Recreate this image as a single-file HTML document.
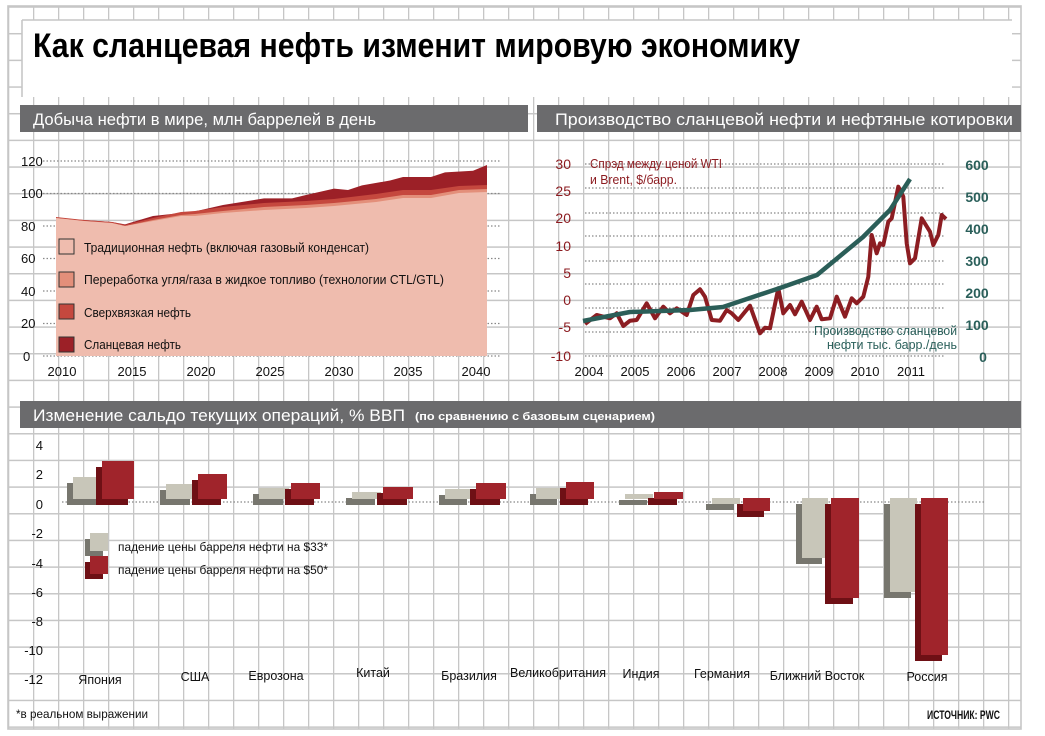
<!DOCTYPE html>
<html><head><meta charset="utf-8"><style>
html,body{margin:0;padding:0;background:#fff;}
svg{display:block;font-family:"Liberation Sans","Noto Sans CJK SC",sans-serif;}
</style></head><body>
<svg width="1045" height="736" viewBox="0 0 1045 736" xmlns="http://www.w3.org/2000/svg">
<defs>
<pattern id="g" x="8" y="6.3" width="25" height="26.67" patternUnits="userSpaceOnUse">
<path d="M0.5,0 V26.67 M0,0.7 H25" stroke="#c6c6c6" stroke-width="1.6" fill="none"/>
</pattern>
</defs>
<rect width="1045" height="736" fill="#fff"/>
<rect x="8" y="6" width="1013" height="723" fill="url(#g)"/>
<rect x="8" y="6" width="1013" height="723" fill="none" stroke="#c6c6c6" stroke-width="1.6"/>
<!-- title box -->
<rect x="22" y="20" width="990" height="77" fill="#fff"/>
<line x1="22" y1="20" x2="22" y2="97" stroke="#c6c6c6" stroke-width="1.6"/>
<line x1="22" y1="20" x2="1012" y2="20" stroke="#c6c6c6" stroke-width="1.6"/>
<text x="33" y="57" font-size="34" font-weight="bold" textLength="767" lengthAdjust="spacingAndGlyphs" fill="#000">Как сланцевая нефть изменит мировую экономику</text>

<!-- headers -->
<rect x="20" y="105" width="508" height="27" fill="#6b6b6d"/>
<text x="33" y="125" font-size="17" fill="#fff" textLength="343" lengthAdjust="spacingAndGlyphs">Добыча нефти в мире, млн баррелей в день</text>
<rect x="537" y="105" width="484" height="27" fill="#6b6b6d"/>
<text x="555" y="125" font-size="17" fill="#fff" textLength="458" lengthAdjust="spacingAndGlyphs">Производство сланцевой нефти и нефтяные котировки</text>
<rect x="20" y="401" width="1001" height="27" fill="#6b6b6d"/>
<text x="33" y="421" font-size="17" fill="#fff" textLength="372" lengthAdjust="spacingAndGlyphs">Изменение сальдо текущих операций, % ВВП</text>
<text x="415" y="420" font-size="11" font-weight="bold" fill="#fff" textLength="240" lengthAdjust="spacingAndGlyphs">(по сравнению с базовым сценарием)</text>

<!-- left chart -->
<g stroke="#888" stroke-width="1.3" stroke-dasharray="1.5,2">
<line x1="43" y1="161" x2="500" y2="161"/><line x1="43" y1="193.5" x2="500" y2="193.5"/>
<line x1="43" y1="226" x2="500" y2="226"/><line x1="43" y1="258.5" x2="500" y2="258.5"/>
<line x1="43" y1="291" x2="500" y2="291"/><line x1="43" y1="323.5" x2="500" y2="323.5"/>
<line x1="43" y1="356" x2="500" y2="356"/>
</g>
<path d="M56,218 L84,220 L112,222 L125,224.4 L153,216 L181,213 L195,211.4 L223,205 L264,198.4 L292,198.4 L306,195 L334,188.6 L348,190 L362,185.4 L390,180.5 L403,177 L431,177 L445,172.4 L473,170.8 L487,165 L487,356 L56,356 Z" fill="#9c2027"/>
<path d="M56,217 L84,220 L112,222 L125,225 L153,218 L181,212 L195,211 L223,207 L264,203 L306,201 L334,199 L376,194 L403,190 L431,190 L459,186 L487,185 L487,356 L56,356 Z" fill="#c5483e"/>
<path d="M56,218 L84,221 L112,223 L125,226 L153,220 L181,215 L195,214 L223,211 L264,207 L306,205 L334,203 L376,199 L403,195 L431,195 L459,190 L487,189 L487,356 L56,356 Z" fill="#e38f7a"/>
<path d="M56,218 L84,221 L112,223 L125,226 L153,221 L181,216 L195,216 L223,213 L264,210 L306,208 L334,206 L376,202 L403,198 L431,198 L459,193 L487,192 L487,356 L56,356 Z" fill="#efbcae"/>
<g font-size="13" fill="#111">
<text x="21" y="166">120</text><text x="21" y="198">100</text><text x="21" y="231">80</text>
<text x="21" y="263">60</text><text x="21" y="296">40</text><text x="21" y="328">20</text><text x="23" y="361">0</text>
</g>
<g font-size="13" fill="#111" text-anchor="middle">
<text x="62" y="376">2010</text><text x="132" y="376">2015</text><text x="201" y="376">2020</text>
<text x="270" y="376">2025</text><text x="339" y="376">2030</text><text x="408" y="376">2035</text><text x="476" y="376">2040</text>
</g>
<g stroke="#333" stroke-width="1">
<rect x="59" y="239" width="15" height="15" fill="#efbcae"/>
<rect x="59" y="272" width="15" height="15" fill="#e38f7a"/>
<rect x="59" y="304" width="15" height="15" fill="#c5483e"/>
<rect x="59" y="337" width="15" height="15" fill="#9c2027"/>
</g>
<g font-size="12.5" fill="#111">
<text x="84" y="252" textLength="285" lengthAdjust="spacingAndGlyphs">Традиционная нефть (включая газовый конденсат)</text>
<text x="84" y="284" textLength="360" lengthAdjust="spacingAndGlyphs">Переработка угля/газа в жидкое топливо (технологии CTL/GTL)</text>
<text x="84" y="317" textLength="107" lengthAdjust="spacingAndGlyphs">Сверхвязкая нефть</text>
<text x="84" y="349" textLength="97" lengthAdjust="spacingAndGlyphs">Сланцевая нефть</text>
</g>

<!-- right chart -->
<g stroke="#888" stroke-width="1.3" stroke-dasharray="1.5,2">
<line x1="585" y1="164" x2="945" y2="164"/><line x1="585" y1="188" x2="945" y2="188"/>
<line x1="585" y1="213" x2="945" y2="213"/><line x1="585" y1="236" x2="945" y2="236"/>
<line x1="585" y1="261" x2="945" y2="261"/><line x1="585" y1="284" x2="945" y2="284"/>
<line x1="585" y1="308" x2="945" y2="308"/><line x1="585" y1="332" x2="945" y2="332"/>
<line x1="585" y1="356" x2="945" y2="356"/>
</g>
<g font-size="14" fill="#8b1a1f" text-anchor="end">
<text x="571" y="169">30</text><text x="571" y="196">25</text><text x="571" y="223">20</text>
<text x="571" y="251">10</text><text x="571" y="278">5</text><text x="571" y="305">0</text>
<text x="571" y="332">-5</text><text x="571" y="361">-10</text>
</g>
<g font-size="14" font-weight="bold" fill="#2a5f5a" text-anchor="middle">
<text x="977" y="170">600</text><text x="977" y="202">500</text><text x="977" y="234">400</text>
<text x="977" y="266">300</text><text x="977" y="298">200</text><text x="977" y="330">100</text><text x="983" y="362">0</text>
</g>
<g font-size="13" fill="#111" text-anchor="middle">
<text x="589" y="376">2004</text><text x="635" y="376">2005</text><text x="681" y="376">2006</text><text x="727" y="376">2007</text>
<text x="773" y="376">2008</text><text x="819" y="376">2009</text><text x="865" y="376">2010</text><text x="911" y="376">2011</text>
</g>
<text x="590" y="168" font-size="12.5" fill="#8b1a1f" textLength="132" lengthAdjust="spacingAndGlyphs">Спрэд между ценой WTI</text>
<text x="590" y="184" font-size="12.5" fill="#8b1a1f" textLength="87" lengthAdjust="spacingAndGlyphs">и Brent, $/барр.</text>
<polyline fill="none" stroke="#8c1d22" stroke-width="4" stroke-linejoin="round" points="585,324 596.7,315 610,318.3 616.7,313.3 623.3,326 630,320.7 636.7,320 646.7,303.3 655,318.3 663.3,306.7 670,313.3 676.7,308.3 686.7,315 693.3,295 700,289.3 705,296.7 711.7,320 720,320.7 726.7,310 731.7,313.3 738.3,320 750,305.7 760,333.3 765,327.7 770,328.3 778.3,288.3 783.3,313.3 790,305 795,314.3 801.7,301.7 810,320 816.7,306.7 821.7,319.3 830,318.3 836.7,296.7 845,316.7 851.7,298.3 856.7,303.3 863.3,296.7 868.3,276.7 871.7,235 876.7,253.3 880,243.3 883.3,245 888.3,221.7 891.7,218.3 898.3,186.7 903.3,196.7 906.7,243.3 910,263.3 915,258.3 921.7,218.3 930,231.7 933.3,245 938.3,235 941.7,215 946,219"/>
<polyline fill="none" stroke="#2b5e58" stroke-width="4.5" stroke-linejoin="round" points="583,321 630,312 690,310 723,307 780,288 817,275 863,237 890,210 910,179"/>
<text x="957" y="335" font-size="12.5" fill="#2a5f5a" text-anchor="end" textLength="143" lengthAdjust="spacingAndGlyphs">Производство сланцевой</text>
<text x="957" y="349" font-size="12.5" fill="#2a5f5a" text-anchor="end" textLength="130" lengthAdjust="spacingAndGlyphs">нефти тыс. барр./день</text>

<!-- bottom chart -->
<line x1="62" y1="502" x2="985" y2="502" stroke="#888" stroke-width="1.3" stroke-dasharray="1.5,2"/>
<g font-size="13" fill="#111" text-anchor="end">
<text x="43" y="450">4</text><text x="43" y="479">2</text><text x="43" y="509">0</text>
<text x="43" y="538">-2</text><text x="43" y="568">-4</text><text x="43" y="597">-6</text>
<text x="43" y="626">-8</text><text x="43" y="655">-10</text><text x="43" y="684">-12</text>
</g>
<g>
<!-- helper: shadow = front shifted (-6,+6) -->
<!-- Japan -->
<rect x="67" y="483" width="30" height="22" fill="#77766e"/><rect x="73" y="477" width="30" height="22" fill="#c8c6b9"/>
<rect x="96" y="467" width="32" height="38" fill="#6e1015"/><rect x="102" y="461" width="32" height="38" fill="#a0242b"/>
<!-- USA -->
<rect x="160" y="490" width="30" height="15" fill="#77766e"/><rect x="166" y="484" width="30" height="15" fill="#c8c6b9"/>
<rect x="192" y="480" width="29" height="25" fill="#6e1015"/><rect x="198" y="474" width="29" height="25" fill="#a0242b"/>
<!-- Eurozone -->
<rect x="253" y="494" width="30" height="11" fill="#77766e"/><rect x="259" y="488" width="30" height="11" fill="#c8c6b9"/>
<rect x="285" y="489" width="29" height="16" fill="#6e1015"/><rect x="291" y="483" width="29" height="16" fill="#a0242b"/>
<!-- China -->
<rect x="346" y="498" width="29" height="7" fill="#77766e"/><rect x="352" y="492" width="29" height="7" fill="#c8c6b9"/>
<rect x="377" y="493" width="30" height="12" fill="#6e1015"/><rect x="383" y="487" width="30" height="12" fill="#a0242b"/>
<!-- Brazil -->
<rect x="439" y="495" width="28" height="10" fill="#77766e"/><rect x="445" y="489" width="28" height="10" fill="#c8c6b9"/>
<rect x="470" y="489" width="30" height="16" fill="#6e1015"/><rect x="476" y="483" width="30" height="16" fill="#a0242b"/>
<!-- UK -->
<rect x="530" y="494" width="27" height="11" fill="#77766e"/><rect x="536" y="488" width="27" height="11" fill="#c8c6b9"/>
<rect x="560" y="488" width="28" height="17" fill="#6e1015"/><rect x="566" y="482" width="28" height="17" fill="#a0242b"/>
<!-- India -->
<rect x="619" y="500" width="28" height="5" fill="#77766e"/><rect x="625" y="494" width="28" height="5" fill="#c8c6b9"/>
<rect x="648" y="498" width="29" height="7" fill="#6e1015"/><rect x="654" y="492" width="29" height="7" fill="#a0242b"/>
<!-- Germany -->
<rect x="706" y="504" width="28" height="6" fill="#77766e"/><rect x="712" y="498" width="28" height="6" fill="#c8c6b9"/>
<rect x="737" y="504" width="27" height="13" fill="#6e1015"/><rect x="743" y="498" width="27" height="13" fill="#a0242b"/>
<!-- Middle East -->
<rect x="796" y="504" width="26" height="60" fill="#77766e"/><rect x="802" y="498" width="26" height="60" fill="#c8c6b9"/>
<rect x="825" y="504" width="28" height="100" fill="#6e1015"/><rect x="831" y="498" width="28" height="100" fill="#a0242b"/>
<!-- Russia -->
<rect x="884" y="504" width="27" height="94" fill="#77766e"/><rect x="890" y="498" width="27" height="94" fill="#c8c6b9"/>
<rect x="915" y="504" width="27" height="157" fill="#6e1015"/><rect x="921" y="498" width="27" height="157" fill="#a0242b"/>
</g>
<rect x="85" y="539" width="18" height="17" fill="#77766e"/><rect x="90" y="533" width="18" height="18" fill="#c8c6b9"/>
<rect x="85" y="562" width="18" height="17" fill="#6e1015"/><rect x="90" y="556" width="18" height="18" fill="#a0242b"/>
<text x="118" y="551" font-size="12" fill="#111" textLength="210" lengthAdjust="spacingAndGlyphs">падение цены барреля нефти на $33*</text>
<text x="118" y="574" font-size="12" fill="#111" textLength="210" lengthAdjust="spacingAndGlyphs">падение цены барреля нефти на $50*</text>
<g font-size="12.5" fill="#111" text-anchor="middle">
<text x="100" y="684">Япония</text><text x="195" y="681">США</text><text x="276" y="680">Еврозона</text>
<text x="373" y="677">Китай</text><text x="469" y="680">Бразилия</text><text x="558" y="677">Великобритания</text>
<text x="641" y="678">Индия</text><text x="722" y="678">Германия</text><text x="817" y="680">Ближний Восток</text><text x="927" y="681">Россия</text>
</g>
<text x="16" y="718" font-size="12" fill="#111" textLength="132" lengthAdjust="spacingAndGlyphs">*в реальном выражении</text>
<text x="1000" y="719" font-size="11.5" font-weight="bold" fill="#111" text-anchor="end" textLength="73" lengthAdjust="spacingAndGlyphs">ИСТОЧНИК: PWC</text>
</svg>
</body></html>
